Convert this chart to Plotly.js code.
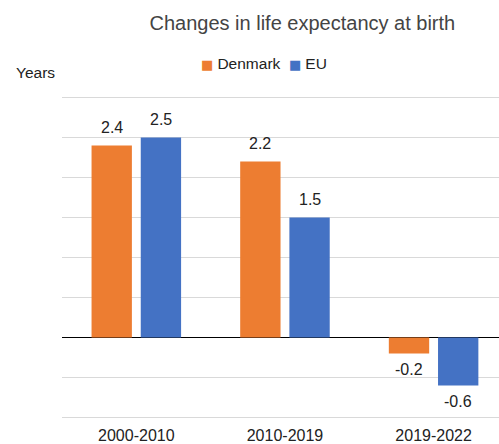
<!DOCTYPE html>
<html>
<head>
<meta charset="utf-8">
<script src="https://cdn.plot.ly/plotly-3.0.1.min.js"></script>
<style>html,body{margin:0;padding:0;background:#fff}#chart{width:499px;height:444px}</style>
</head>
<body>
<div id="chart"></div>
<script>
var periods = ["2000-2010", "2010-2019", "2019-2022"];
var denmark = [2.4, 2.2, -0.2];
var eu = [2.5, 1.5, -0.6];
var seriesNames = ["Denmark", "EU"];
var seriesColors = ["#ED7D31", "#4472C4"];

var FONT = "Liberation Sans, Arial, sans-serif";
var series = [denmark, eu];
var traces = series.map(function (vals, i) {
  return {
    type: "bar", name: seriesNames[i], x: periods, y: vals,
    marker: {color: seriesColors[i]}, hoverinfo: "skip", showlegend: false
  };
});

var annotations = [];
var shifts = [-24.6, 24.6];
series.forEach(function (vals, i) {
  vals.forEach(function (v, j) {
    annotations.push({
      x: periods[j], y: v, xref: "x", yref: "y",
      text: v.toFixed(1), showarrow: false,
      xshift: shifts[i], yshift: v >= 0 ? 8 : -6,
      yanchor: v >= 0 ? "bottom" : "top",
      font: {family: FONT, size: 16, color: "#222"}
    });
  });
});
var T = 96.4, B = 24.9, PH = 444 - T - B;
annotations.push({
  xref: "paper", yref: "paper", x: -0.11, y: 1 + (T - 72.5) / PH, xanchor: "left", yanchor: "middle",
  text: "Years", showarrow: false, font: {family: FONT, size: 15.5, color: "#222"}
});
// legend built from series names and colours
var legendText = seriesNames.map(function (n, i) {
  return '<span style="color:' + seriesColors[i] + ';font-family:DejaVu Sans;font-size:13px">\u25A0 </span>' + n;
}).join('  ');
annotations.push({
  xref: "paper", yref: "paper", x: (264 - 62) / 437, y: 1 + (T - 63.5) / PH, xanchor: "center", yanchor: "middle",
  text: legendText, showarrow: false, font: {family: FONT, size: 15.5, color: "#222"}
});

var layout = {
  width: 499, height: 444,
  margin: {l: 62, r: 0, t: T, b: B, pad: 0},
  paper_bgcolor: "#fff", plot_bgcolor: "#fff",
  title: {text: "Changes in life expectancy at birth", x: 0.55, xref: "paper", xanchor: "center",
          y: 0.948, yref: "container", yanchor: "middle",
          font: {family: FONT, size: 20, color: "#444"}},
  font: {family: FONT, color: "#222"},
  barmode: "group", bargap: 0.338, bargroupgap: 0.18,
  showlegend: false,
  xaxis: {type: "category", range: [-0.5, 2.44], showgrid: false, zeroline: false, showline: false,
          ticks: "outside", ticklen: 1.4, tickcolor: "rgba(0,0,0,0)",
          tickfont: {family: FONT, size: 16, color: "#222"}, fixedrange: true},
  yaxis: {range: [-1.02, 3.02], dtick: 0.5, tick0: 0, showgrid: true, gridcolor: "#d9d9d9", gridwidth: 1,
          zeroline: true, zerolinecolor: "#000", zerolinewidth: 1.5, showticklabels: false,
          ticks: "", showline: false, fixedrange: true},
  annotations: annotations
};

Plotly.newPlot("chart", traces, layout, {displayModeBar: false, staticPlot: true});
</script>
</body>
</html>
